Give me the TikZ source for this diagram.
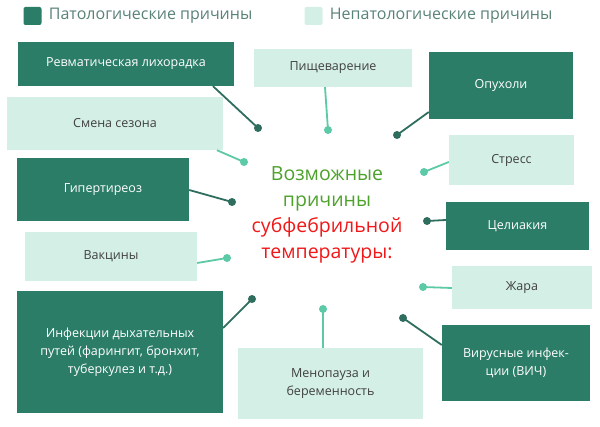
\documentclass[tikz,border=0pt]{standalone}
\usepackage{fontspec}
\setmainfont{Open Sans}
\usepackage{tikz}
\usetikzlibrary{positioning, backgrounds}
\definecolor{patcol}{HTML}{2B7D67}
\definecolor{patline}{HTML}{2F6E5E}
\definecolor{nonpatcol}{HTML}{D4EFE5}
\definecolor{nonpatline}{HTML}{5CCAA6}
\definecolor{legendtext}{HTML}{5A8378}
\definecolor{titlegreen}{HTML}{4CA22A}
\definecolor{titlered}{HTML}{F01818}
\tikzstyle{patbox} = [rectangle, fill=patcol, text=white, align=center,
                 inner sep=0pt, font=\fontsize{12.5}{18}\selectfont]
\tikzstyle{nonpatbox} = [rectangle, fill=nonpatcol, text=black!75, align=center,
                 inner sep=0pt, font=\fontsize{12.5}{18}\selectfont]
\tikzset{
	darklink/.style={draw=patline, line width=1.8pt},
	lightlink/.style={draw=nonpatline, line width=1.8pt},
	darkdot/.style={circle, fill=patline, inner sep=0pt, minimum size=8pt},
	lightdot/.style={circle, fill=nonpatline, inner sep=0pt, minimum size=8pt},
	legendkey/.style={rounded corners=2pt, minimum size=18pt, inner sep=0pt},
	legendlabel/.style={text=legendtext, font=\fontsize{16}{19}\selectfont, anchor=west, inner sep=0pt},
}

\begin{document}
\begin{tikzpicture}[x=1pt, y=-1pt]

\useasboundingbox[fill=white] (0,0) rectangle (600,427);

% legend
\node [legendkey, fill=patcol] (keypat) at (32.5,16) {};
\node [legendlabel, right=7pt of keypat] (labpat) {Патологические причины};
\node [legendkey, fill=nonpatcol] (keynonpat) at (313.5,16) {};
\node [legendlabel, right=7pt of keynonpat] (labnonpat) {Непатологические причины};

% causes
\node [patbox, minimum width=216pt, minimum height=44pt] (revm) at (126,64) {Ревматическая лихорадка};
\node [nonpatbox, minimum width=158pt, minimum height=38pt] (pisch) at (333,68) {Пищеварение};
\node [patbox, minimum width=144pt, minimum height=67pt] (opuh) at (501,85.5) {Опухоли};
\node [nonpatbox, minimum width=216pt, minimum height=53pt] (smena) at (115,123.5) {Смена сезона};
\node [nonpatbox, minimum width=125pt, minimum height=50pt] (stress) at (511.5,160) {Стресс};
\node [patbox, minimum width=172pt, minimum height=63pt] (giper) at (103,189.5) {Гипертиреоз};
\node [patbox, minimum width=143pt, minimum height=48pt] (celi) at (517.5,226) {Целиакия};
\node [nonpatbox, minimum width=172pt, minimum height=49pt] (vakc) at (111,256.5) {Вакцины};
\node [nonpatbox, minimum width=140pt, minimum height=43pt] (zhara) at (522,287.5) {Жара};
\node [patbox, minimum width=206pt, minimum height=122pt] (infek) at (120,352)
	{Инфекции дыхательных\\путей (фарингит, бронхит,\\туберкулез и т.д.)};
\node [nonpatbox, minimum width=185pt, minimum height=71pt] (meno) at (330.5,383.5)
	{Менопауза и\\беременность};
\node [patbox, minimum width=148pt, minimum height=76pt] (virus) at (516,363)
	{Вирусные инфек-\\ции (ВИЧ)};

% title
\node [align=center, font=\fontsize{19.5}{26}\selectfont] (title) at (327,215)
	{\textcolor{titlegreen}{Возможные}\\\textcolor{titlegreen}{причины}\\
	 \textcolor{titlered}{субфебрильной}\\\textcolor{titlered}{температуры:}};

% dots
\foreach \n/\x/\y/\st in {d1/258/128/darkdot, d2/328/130/lightdot, d3/397/135/darkdot,
		d4/244/162/lightdot, d5/424/172/lightdot, d6/232/202/darkdot,
		d7/427/221/darkdot, d8/227/258/lightdot, d9/423/287/lightdot,
		d10/252/299/darkdot, d11/323/309/lightdot, d12/403/318/darkdot}
	\node [\st] (\n) at (\x,\y) {};

% links
\foreach \src/\dx/\dy/\dst/\st in {revm.south/87/0/d1/darklink, pisch.south/-8/0/d2/lightlink,
		opuh.west/0/-26.5/d3/darklink, smena.south/102/0/d4/lightlink,
		stress.west/0/-2/d5/lightlink, giper.east/0/-0.5/d6/darklink,
		celi.west/0/6/d7/darklink, vakc.east/0/-6.5/d8/lightlink,
		zhara.west/0/-0.5/d9/lightlink, infek.east/0/24/d10/darklink,
		meno.north/-7.5/0/d11/lightlink, virus.west/0/18/d12/darklink}
	\draw [\st] ([xshift=\dx pt, yshift=\dy pt]\src) -- (\dst.center);

\end{tikzpicture}
\end{document}
